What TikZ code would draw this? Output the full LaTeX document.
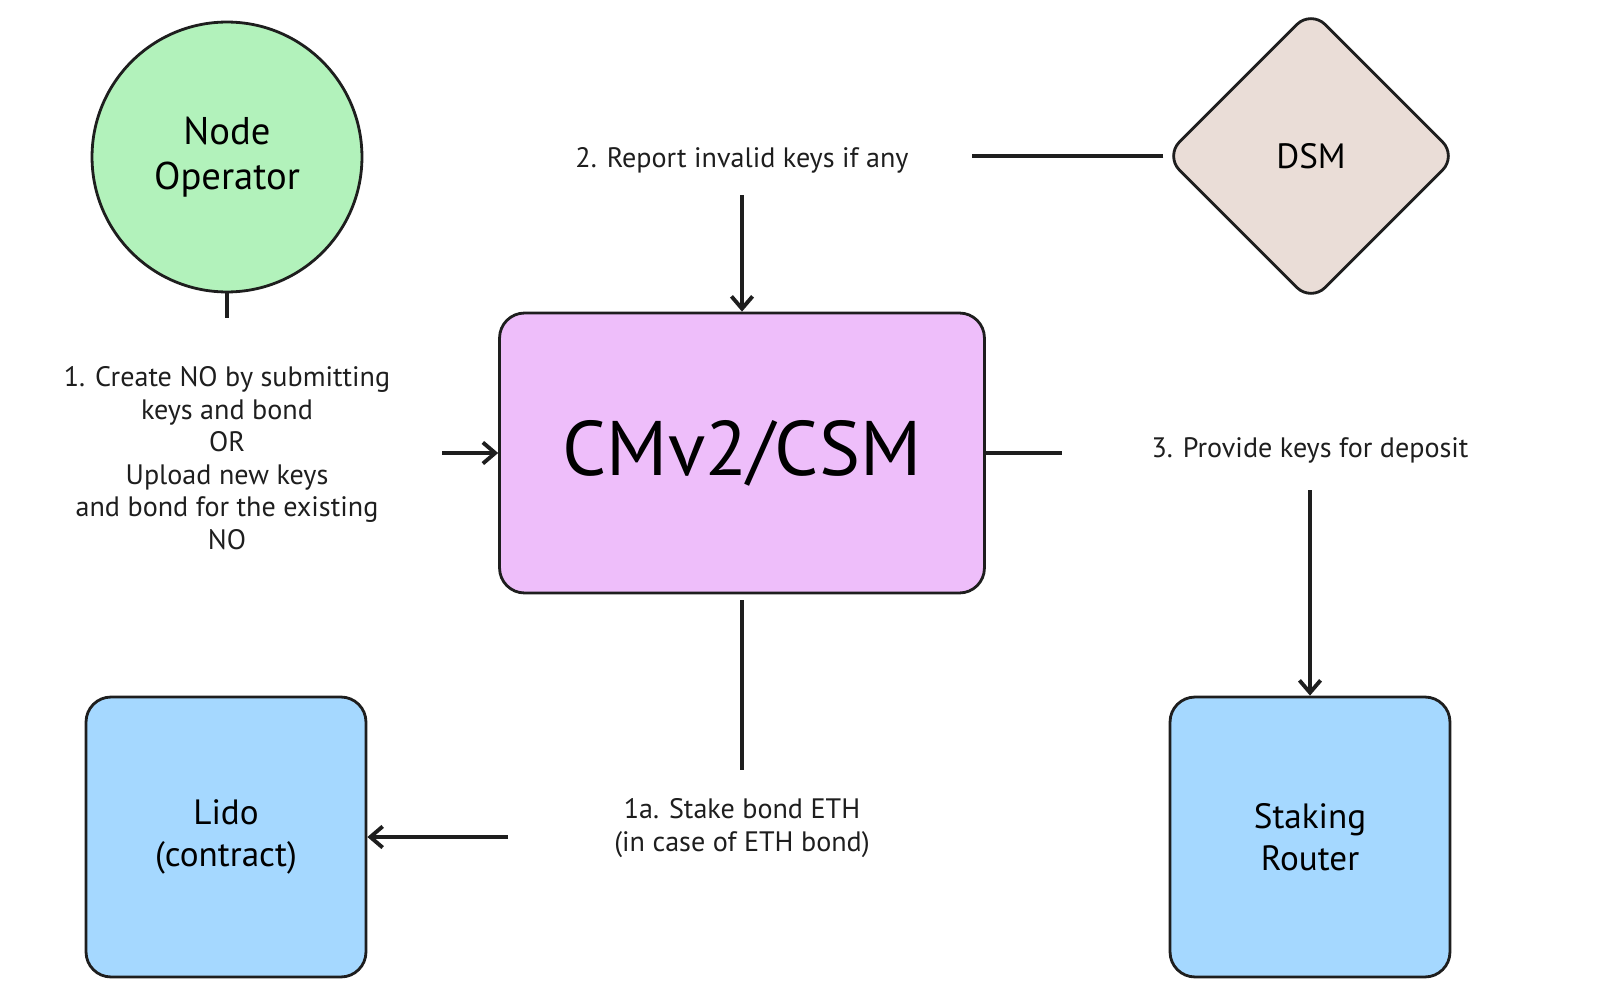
\documentclass[tikz,border=0pt]{standalone}
\usepackage{fontspec}
\setmainfont{PT Sans}
\usetikzlibrary{shapes.geometric,arrows.meta}
\definecolor{gr}{HTML}{B2F2BB}
\definecolor{pk}{HTML}{EEBEFA}
\definecolor{bl}{HTML}{A5D8FF}
\definecolor{br}{HTML}{EADDD7}
\definecolor{ink}{HTML}{1E1E1E}
\begin{document}
\begin{tikzpicture}[x=0.02cm,y=-0.02cm,
  shp/.style={draw=ink,line width=1.6pt},
  box/.style={shp,rounded corners=0.5cm,minimum width=5.6cm,minimum height=5.6cm},
  lbl/.style={font=\fontsize{16}{18.5}\selectfont,align=center,text=ink},
  con/.style={draw=ink,line width=2.2pt},
  arr/.style={con,-{Straight Barb[length=7pt,width=12pt]}}]
\useasboundingbox (0,0) rectangle (1600,1007);
\node[shp,circle,fill=gr,minimum size=5.4cm,font=\fontsize{22}{26}\selectfont,align=center] (no) at (227,157) {Node\\Operator};
\node[shp,diamond,fill=br,minimum width=5.85cm,minimum height=5.85cm,rounded corners=0.4cm,font=\fontsize{20}{24}\selectfont] (dsm) at (1311,156) {DSM};
\node[shp,rounded corners=0.5cm,fill=pk,minimum width=9.7cm,minimum height=5.6cm,font=\fontsize{44}{50}\selectfont] (cm) at (742,453) {CMv2/CSM};
\node[box,fill=bl,font=\fontsize{20}{24}\selectfont,align=center] (lido) at (226,837) {Lido\\(contract)};
\node[box,fill=bl,font=\fontsize{20}{24}\selectfont,align=center] (sr) at (1310,837) {Staking\\Router};
\node[lbl] (t1) at (227,458) {1. Create NO by submitting\\keys and bond\\OR\\Upload new keys\\and bond for the existing\\NO};
\node[lbl] (t2) at (742,160) {2. Report invalid keys if any};
\node[lbl] (t3) at (1310,450) {3. Provide keys for deposit};
\node[lbl] (t4) at (742,828) {1a. Stake bond ETH\\(in case of ETH bond)};
\coordinate (a1) at (227,318);
\coordinate (a2) at (442,453);
\coordinate (b1) at (972,156);
\coordinate (b2) at (742,195);
\coordinate (c1) at (1062,453);
\coordinate (c2) at (1310,490);
\coordinate (d1) at (742,770);
\coordinate (d2) at (508,837);
\draw[con] (no.south) -- (a1);
\draw[arr] (a2) -- (cm.west);
\draw[con] (dsm.west) -- (b1);
\draw[arr] (b2) -- (cm.north);
\draw[con] (cm.east) -- (c1);
\draw[arr] (c2) -- (sr.north);
\draw[con] (cm.south) ++(0,6) -- (d1);
\draw[arr] (d2) -- (lido.east);
\end{tikzpicture}
\end{document}
